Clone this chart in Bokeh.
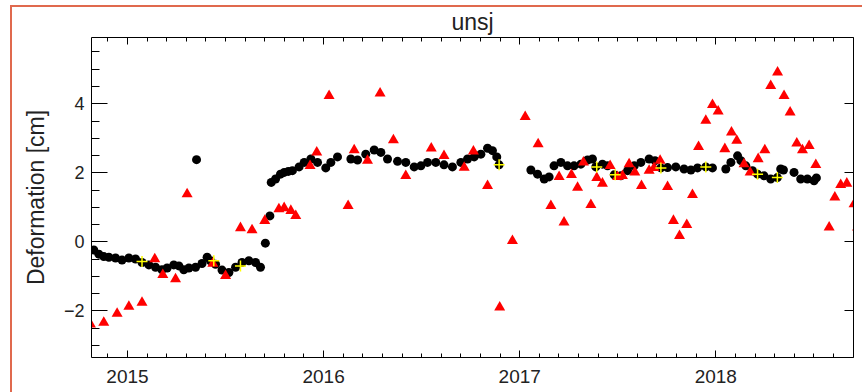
from bokeh.plotting import figure
from bokeh.models import FixedTicker, LinearAxis, Range1d
from bokeh.embed import file_html
from bokeh.resources import INLINE

# ---------------- data (decimal year, deformation in cm) ----------------
title_text = "unsj"
y_label = "Deformation [cm]"
x_major = [2015, 2016, 2017, 2018]
x_minor = [round(2014.9 + 0.1 * i, 1) for i in range(39)]
y_major = [-2, 0, 2, 4]
y_minor = [-3.0 + 0.5 * i for i in range(18)]
x_limits = [2014.8164, 2018.7022]
y_limits = [-3.354, 5.92]

blk_year = [
    2014.828, 2014.854, 2014.879, 2014.905, 2014.939, 2014.972, 2015.007, 2015.041,
    2015.074, 2015.109, 2015.143, 2015.176, 2015.202, 2015.236, 2015.262, 2015.287,
    2015.313, 2015.347, 2015.380, 2015.406, 2015.423, 2015.449, 2015.482, 2015.517,
    2015.551, 2015.584, 2015.619, 2015.653, 2015.678,
    2015.352, 2015.703, 2015.726,
    2015.733, 2015.755, 2015.780, 2015.799, 2015.820, 2015.841, 2015.875, 2015.901,
    2015.935, 2015.969, 2016.011, 2016.037, 2016.071,
    2016.139, 2016.173, 2016.215, 2016.258, 2016.292, 2016.326, 2016.377, 2016.419,
    2016.462, 2016.496, 2016.530, 2016.572, 2016.614, 2016.657, 2016.700, 2016.734,
    2016.768, 2016.802, 2016.836, 2016.861, 2016.883, 2016.895,
    2017.057, 2017.091, 2017.125, 2017.150, 2017.175, 2017.210, 2017.244, 2017.277,
    2017.312, 2017.346, 2017.371, 2017.388, 2017.422, 2017.448, 2017.482, 2017.516,
    2017.550, 2017.584, 2017.618, 2017.660, 2017.690, 2017.720, 2017.754, 2017.796,
    2017.838, 2017.873, 2017.907, 2017.949, 2017.983,
    2018.051, 2018.077, 2018.111, 2018.128, 2018.153, 2018.187, 2018.213, 2018.246,
    2018.280, 2018.314, 2018.331, 2018.345,
    2018.399, 2018.433, 2018.467, 2018.501, 2018.513,
]
blk_def = [
    -0.24, -0.36, -0.43, -0.45, -0.47, -0.53, -0.47, -0.50,
    -0.60, -0.67, -0.74, -0.81, -0.76, -0.67, -0.70, -0.81,
    -0.76, -0.74, -0.63, -0.45, -0.55, -0.65, -0.82, -0.89,
    -0.74, -0.60, -0.55, -0.60, -0.74,
    2.38, -0.04, 0.75,
    1.72, 1.82, 1.96, 2.01, 2.04, 2.06, 2.17, 2.30,
    2.40, 2.30, 2.14, 2.30, 2.46,
    2.40, 2.37, 2.54, 2.66, 2.59, 2.40, 2.33, 2.30,
    2.17, 2.20, 2.30, 2.30, 2.23, 2.17, 2.30, 2.40,
    2.46, 2.54, 2.71, 2.64, 2.46, 2.23,
    2.08, 1.96, 1.82, 1.88, 2.20, 2.30, 2.20, 2.20,
    2.25, 2.37, 2.40, 2.17, 2.25, 2.20, 1.94, 1.91,
    2.06, 2.20, 2.30, 2.40, 2.35, 2.14, 2.15, 2.17,
    2.11, 2.08, 2.14, 2.17, 2.14,
    2.11, 2.30, 2.49, 2.35, 2.20, 2.06, 1.96, 1.91,
    1.82, 1.86, 2.11, 2.08,
    2.01, 1.82, 1.82, 1.77, 1.85,
]

tri_year = [
    2014.811, 2014.879, 2014.947, 2015.007, 2015.074, 2015.139, 2015.180, 2015.245,
    2015.304, 2015.435, 2015.500, 2015.576, 2015.635, 2015.700, 2015.772, 2015.799,
    2015.833, 2015.858, 2015.931, 2015.965, 2016.028, 2016.125, 2016.156, 2016.224,
    2016.288, 2016.356, 2016.419, 2016.549, 2016.614, 2016.717, 2016.764, 2016.836,
    2016.898, 2016.963, 2017.028, 2017.094, 2017.159, 2017.201, 2017.226, 2017.264,
    2017.295, 2017.325, 2017.363, 2017.393, 2017.422, 2017.461, 2017.499, 2017.524,
    2017.558, 2017.587, 2017.621, 2017.660, 2017.685, 2017.716, 2017.754, 2017.784,
    2017.815, 2017.852, 2017.881, 2017.912, 2017.949, 2017.983, 2018.012, 2018.046,
    2018.080, 2018.107, 2018.144, 2018.175, 2018.216, 2018.250, 2018.280, 2018.315,
    2018.348, 2018.379, 2018.413, 2018.442, 2018.476, 2018.510, 2018.578, 2018.607,
    2018.637, 2018.668, 2018.705, 2018.723,
]
tri_def = [
    -2.39, -2.34, -2.08, -1.88, -1.76, -0.50, -0.96, -1.08,
    1.38, -0.63, -0.99, 0.40, 0.34, 0.61, 0.95, 0.98,
    0.90, 0.75, 2.20, 2.59, 4.23, 1.04, 2.66, 2.35,
    4.30, 2.95, 1.91, 2.71, 2.49, 2.15, 2.62, 1.62,
    -1.90, 0.03, 3.62, 2.83, 1.04, 1.88, 0.56, 1.94,
    1.57, 2.30, 1.07, 1.85, 1.69, 2.20, 1.88, 1.91,
    2.25, 2.01, 1.62, 2.06, 2.14, 2.35, 1.59, 0.61,
    0.17, 0.49, 1.36, 2.75, 3.51, 3.97, 3.78, 2.69,
    3.17, 2.93, 2.25, 2.01, 2.40, 2.66, 4.52, 4.91,
    4.23, 3.75, 2.85, 2.66, 2.78, 2.23, 0.42, 1.29,
    1.65, 1.69, 1.09, 0.42,
]

crs_year = [2015.074, 2015.440, 2015.576, 2016.895, 2017.393, 2017.487,
            2017.720, 2017.949, 2018.213, 2018.314]
crs_def = [-0.57, -0.55, -0.70, 2.23, 2.17, 1.94, 2.14, 2.17, 1.96, 1.86]

# ---------------- figure ----------------
FONT = "Liberation Sans"
TXT = "#222222"
ORANGE = "#E0694E"

p = figure(width=862, height=392, output_backend="svg", toolbar_location=None,
           x_range=Range1d(*x_limits), y_range=Range1d(*y_limits),
           min_border_left=91, min_border_right=9, min_border_top=37,
           min_border_bottom=35, background_fill_color="white",
           border_fill_color=None)
# page frame lines (left and top) drawn behind the transparent border area
p.styles = {"box-shadow": "inset 10px 5px 0 0 white, inset 12px 7px 0 0 " + ORANGE,
            "background-color": "white"}
p.outline_line_color = None
p.xgrid.visible = False
p.ygrid.visible = False

p.title.text = title_text
p.title.align = "center"
p.title.text_font = FONT
p.title.text_font_size = "23px"
p.title.text_font_style = "normal"
p.title.text_color = TXT
p.title.standoff = 5

xt = FixedTicker(ticks=x_major, minor_ticks=x_minor)
yt = FixedTicker(ticks=y_major, minor_ticks=y_minor)

xa = p.xaxis[0]
xa.ticker = xt
xa.major_tick_in = 7
xa.major_tick_out = 0
xa.minor_tick_in = 4
xa.minor_tick_out = 0
xa.major_label_standoff = 12
xa.major_label_text_font = FONT
xa.major_label_text_font_size = "19px"
xa.major_label_text_color = TXT
xa.axis_line_color = "black"

ya = p.yaxis[0]
ya.ticker = yt
ya.major_tick_in = 16
ya.major_tick_out = 0
ya.minor_tick_in = 8
ya.minor_tick_out = 0
ya.major_label_standoff = 7
ya.major_label_text_font = FONT
ya.major_label_text_font_size = "18px"
ya.major_label_text_color = TXT
ya.major_label_overrides = {-2: "\u22122"}
ya.axis_label = y_label
ya.axis_label_text_font = FONT
ya.axis_label_text_font_size = "23px"
ya.axis_label_text_font_style = "normal"
ya.axis_label_text_color = TXT
ya.axis_label_standoff = 12
ya.axis_line_color = "black"

top = LinearAxis(ticker=xt, major_tick_in=7, major_tick_out=0, minor_tick_in=4,
                 minor_tick_out=0, major_label_text_font_size="1px",
                 major_label_text_color=None, major_label_standoff=0,
                 axis_line_color="black")
p.add_layout(top, "above")
right = LinearAxis(ticker=yt, major_tick_in=9, major_tick_out=0, minor_tick_in=0,
                   minor_tick_out=0, major_label_text_font_size="1px",
                   major_label_text_color=None, major_label_standoff=0,
                   axis_line_color="black")
p.add_layout(right, "right")

p.scatter(blk_year, blk_def, marker="circle", size=9, fill_color="black",
          line_color=None)
p.scatter(tri_year, tri_def, marker="triangle", size=11, fill_color="#FF0000",
          line_color=None)
p.scatter(crs_year, crs_def, marker="cross", size=11, line_color="#FFFF00",
          line_width=1.5)

open("out.html", "w").write(file_html(p, INLINE))
